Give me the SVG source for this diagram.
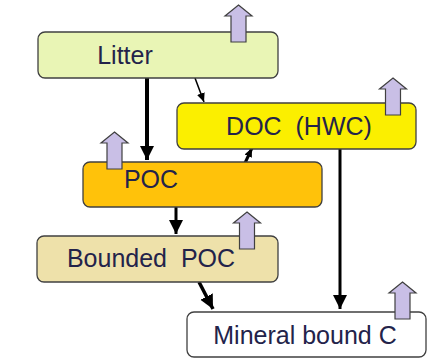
<svg xmlns="http://www.w3.org/2000/svg" width="436" height="361" viewBox="0 0 436 361">
<style>
.box{stroke:#404040;stroke-width:1.3}
.lbl{font-family:"Liberation Sans",Arial,sans-serif;font-size:25px;fill:#23234a;text-anchor:middle}
.up{fill:#c9bfe6;stroke:#404040;stroke-width:1.2}
.c{stroke:#000;fill:none}
</style>
<defs>
<marker id="ah" markerUnits="userSpaceOnUse" markerWidth="16" markerHeight="16" refX="14" refY="8" orient="auto" viewBox="0 0 16 16">
<path d="M0,1 L14,8 L0,15 z" fill="#000"/>
</marker>
<marker id="ahs" markerUnits="userSpaceOnUse" markerWidth="10" markerHeight="10" refX="9" refY="5" orient="auto" viewBox="0 0 10 10">
<path d="M0,1 L9,5 L0,9 z" fill="#000"/>
</marker>
<path id="uparrow" class="up" d="M0,0 L13.5,11 L7.5,11 L7.5,37 L-7.5,37 L-7.5,11 L-13.5,11 Z"/>
</defs>
<rect width="436" height="361" fill="#fff"/>
<g id="connectors">
<line class="c" x1="147" y1="78" x2="147" y2="160" stroke-width="4" marker-end="url(#ah)"/>
<line class="c" x1="195" y1="78" x2="204" y2="102" stroke-width="1.5" marker-end="url(#ahs)"/>
<line class="c" x1="245" y1="163" x2="252" y2="148" stroke-width="3" marker-end="url(#ahs)"/>
<line class="c" x1="176" y1="207" x2="176" y2="234" stroke-width="3" marker-end="url(#ah)"/>
<line class="c" x1="340" y1="149" x2="340" y2="309" stroke-width="3" marker-end="url(#ah)"/>
<line class="c" x1="199" y1="282" x2="213" y2="309" stroke-width="3.5" marker-end="url(#ah)"/>
</g>
<g id="litter">
<rect class="box" x="38" y="32" width="240" height="46" rx="7" fill="#e9f5b5"/>
<text class="lbl" x="125" y="64">Litter</text>
<use href="#uparrow" x="238.5" y="5"/>
</g>
<g id="doc">
<rect class="box" x="177" y="103" width="239" height="46" rx="7" fill="#fbef00"/>
<text class="lbl" x="299" y="135" xml:space="preserve">DOC  (HWC)</text>
<use href="#uparrow" x="393" y="78"/>
</g>
<g id="poc">
<rect class="box" x="83" y="162" width="239" height="45" rx="7" fill="#ffc20a"/>
<text class="lbl" x="151" y="188">POC</text>
<use href="#uparrow" x="114.5" y="132"/>
</g>
<g id="bounded">
<rect class="box" x="37" y="236" width="241" height="46" rx="7" fill="#eee1aa"/>
<text class="lbl" x="151" y="267" xml:space="preserve">Bounded  POC</text>
<use href="#uparrow" x="247" y="212"/>
</g>
<g id="mineral">
<rect class="box" x="187" y="312" width="239" height="45" rx="7" fill="#fff"/>
<text class="lbl" x="305" y="344">Mineral bound C</text>
<use href="#uparrow" x="402.5" y="282"/>
</g>
</svg>
